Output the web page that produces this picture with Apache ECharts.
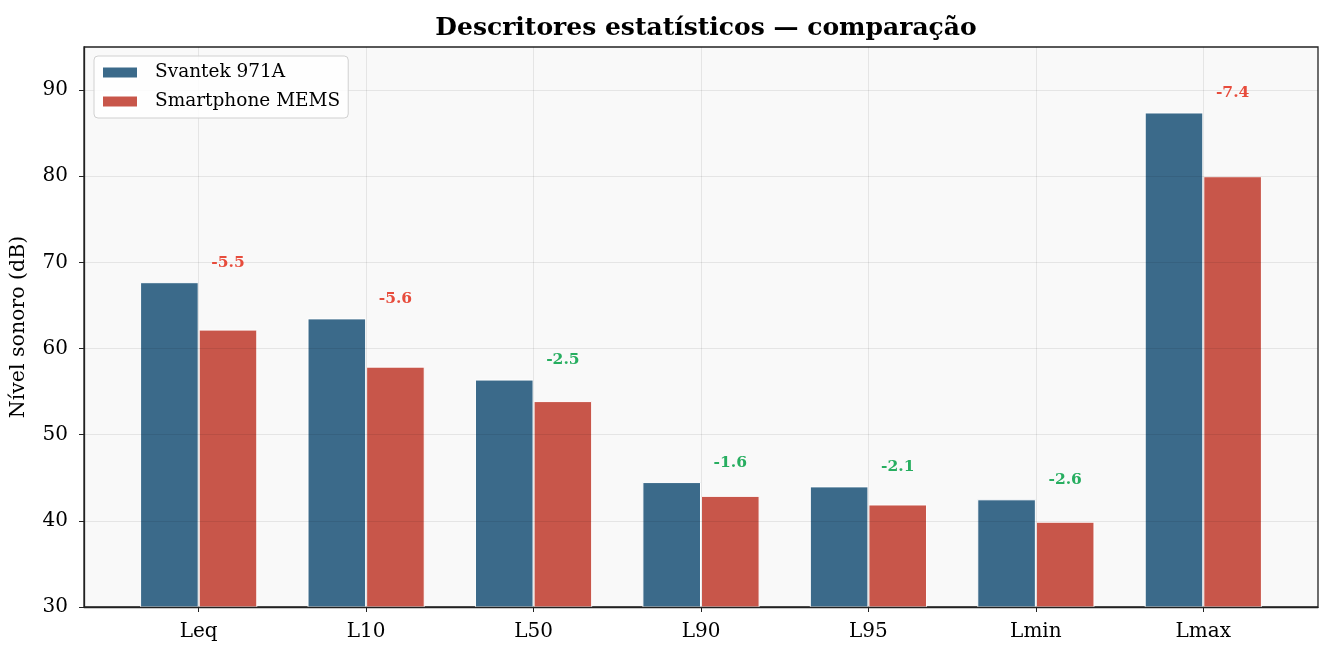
<!DOCTYPE html>
<html><head><meta charset="utf-8">
<script src="https://cdn.jsdelivr.net/npm/echarts@6/dist/echarts.min.js"></script>
<style>html,body{margin:0;padding:0;background:#fff}#c{width:1333px;height:657px}</style>
</head><body><div id="c"></div>
<script>
const categories = ['Leq', 'L10', 'L50', 'L90', 'L95', 'Lmin', 'Lmax'];
const svantek = [67.7, 63.5, 56.4, 44.5, 44.0, 42.5, 87.4];
const smartphone = [62.2, 57.9, 53.9, 42.9, 41.9, 39.9, 80.0];
const diffLabels = ['-5.5', '-5.6', '-2.5', '-1.6', '-2.1', '-2.6', '-7.4'];
const yTicks = [30, 40, 50, 60, 70, 80, 90];
const xTicks = [0, 1, 2, 3, 4, 5, 6];

const FONT = '"DejaVu Serif", serif';
const BAR_W = 0.35;          // bar width in category units
const X_MIN = -0.685, X_MAX = 6.685;
const plotW = 1333 - 84 - 15;
const barPx = BAR_W * plotW / (X_MAX - X_MIN);

const labelData = categories.map((c, i) => [i, Math.max(svantek[i], smartphone[i]) + 1.3]);

const chart = echarts.init(document.getElementById('c'));
chart.setOption({
  backgroundColor: '#fff',
  animation: false,
  title: {
    text: 'Descritores estatísticos — comparação',
    left: 701, top: 11, textAlign: 'center',
    textStyle: { fontFamily: FONT, fontSize: 25, fontWeight: 'bold', color: '#000' }
  },
  legend: {
    orient: 'vertical', left: 94, top: 56,
    data: ['Svantek 971A', 'Smartphone MEMS'],
    icon: 'rect', itemWidth: 36, itemHeight: 12, itemGap: 10,
    padding: [7, 8, 7, 7],
    backgroundColor: 'rgba(255,255,255,0.85)', borderColor: '#d0d0d0', borderWidth: 1, borderRadius: 4,
    textStyle: { fontFamily: FONT, fontSize: 18.5, color: '#000', padding: [0, 0, 0, 12] }
  },
  grid: {
    left: 84, right: 15, top: 47, bottom: 50, show: true, containLabel: false, outerBoundsMode: 'none',
    backgroundColor: '#f9f9f9', borderColor: '#222', borderWidth: 1.3
  },
  xAxis: {
    type: 'value', min: X_MIN, max: X_MAX, z: 3,
    axisLine: { show: true, onZero: false, lineStyle: { color: '#222', width: 1.3 } },
    axisTick: { show: true, length: 5, lineStyle: { color: '#222' }, customValues: xTicks },
    axisLabel: { fontFamily: FONT, fontSize: 20, color: '#000', margin: 15, customValues: xTicks,
      formatter: (v) => categories[Math.round(v)] },
    splitLine: { show: true, lineStyle: { color: 'rgba(0,0,0,0.08)', width: 1 } }
  },
  yAxis: {
    type: 'value', min: 30, max: 95, interval: 10, z: 3,
    name: 'Nível sonoro (dB)', nameLocation: 'middle', nameGap: 55, nameRotate: 90,
    nameTextStyle: { fontFamily: FONT, fontSize: 20.5, color: '#000' },
    axisLine: { show: true, onZero: false, lineStyle: { color: '#222', width: 1.3 } },
    axisTick: { show: true, length: 5, lineStyle: { color: '#222' }, customValues: yTicks },
    axisLabel: { fontFamily: FONT, fontSize: 20, color: '#000', margin: 16, customValues: yTicks },
    splitLine: { show: true, lineStyle: { color: 'rgba(0,0,0,0.08)', width: 1 } }
  },
  series: [{
    name: 'Svantek 971A', type: 'bar', data: svantek.map((v, i) => [i, v]), barWidth: barPx, barGap: '0%',
    itemStyle: { color: '#3b6a8a', borderColor: '#fff', borderWidth: 1 }
  }, {
    name: 'Smartphone MEMS', type: 'bar', data: smartphone.map((v, i) => [i, v]), barWidth: barPx, barGap: '0%',
    itemStyle: { color: '#c8564a', borderColor: '#fff', borderWidth: 1 }
  }, {
    type: 'custom', data: labelData, z: 5, silent: true,
    renderItem: function (params, api) {
      const p = api.coord([api.value(0), api.value(1)]);
      const txt = diffLabels[params.dataIndex];
      const d = Math.abs(parseFloat(txt));
      return {
        type: 'text',
        style: {
          x: p[0] + barPx / 2, y: p[1], text: txt,
          textAlign: 'center', textVerticalAlign: 'bottom',
          fill: d > 3 ? '#e74c3c' : '#27ae60',
          font: 'bold 15.5px "DejaVu Serif", serif'
        }
      };
    }
  }]
});
</script></body></html>
